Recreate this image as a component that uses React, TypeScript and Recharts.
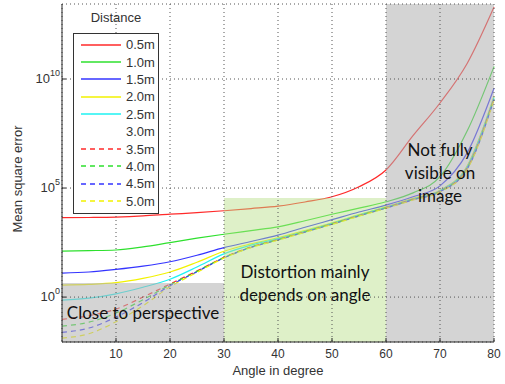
import { LineChart, Line, XAxis, YAxis, CartesianGrid, ReferenceArea } from 'recharts';

// angle in degree, sampled every 5°
const angles = [0, 5, 10, 15, 20, 25, 30, 35, 40, 45, 50, 55, 60, 65, 70, 75, 80];

// mean square error, stored as log10 exponents
const exp05 = [3.64, 3.65, 3.67, 3.72, 3.8, 3.87, 3.96, 4.06, 4.17, 4.36, 4.6, 5.06, 5.83, 7.4, 8.9, 10.7, 13.3];
const exp10 = [2.11, 2.13, 2.16, 2.3, 2.5, 2.7, 2.88, 3.05, 3.22, 3.5, 3.8, 4.08, 4.37, 4.78, 5.52, 7.6, 10.57];
const exp15 = [1.1, 1.15, 1.27, 1.42, 1.62, 1.92, 2.27, 2.55, 2.84, 3.2, 3.55, 3.9, 4.22, 4.6, 5.1, 6.6, 9.58];
const exp20 = [0.55, 0.58, 0.66, 0.86, 1.15, 1.6, 2.1, 2.44, 2.72, 3.05, 3.4, 3.78, 4.14, 4.53, 4.9, 6.0, 9.2];
const exp25 = [-0.14, -0.05, 0.15, 0.45, 0.82, 1.38, 1.98, 2.38, 2.68, 3.02, 3.38, 3.76, 4.12, 4.5, 4.88, 5.95, 9.15];
const exp35 = [-1.02, -0.85, -0.55, 0.0, 0.6, 1.2, 1.82, 2.3, 2.64, 3.0, 3.36, 3.74, 4.1, 4.48, 4.85, 5.9, 9.1];
const exp40 = [-1.33, -1.15, -0.73, -0.12, 0.56, 1.18, 1.81, 2.29, 2.63, 2.99, 3.35, 3.73, 4.09, 4.47, 4.84, 5.88, 9.08];
const exp45 = [-1.62, -1.42, -0.92, -0.25, 0.52, 1.16, 1.8, 2.28, 2.62, 2.98, 3.34, 3.72, 4.08, 4.46, 4.83, 5.86, 9.06];
const exp50 = [-1.88, -1.68, -1.13, -0.4, 0.47, 1.13, 1.79, 2.27, 2.61, 2.97, 3.33, 3.71, 4.07, 4.45, 4.82, 5.84, 9.04];

const xTicks = [10, 20, 30, 40, 50, 60, 70, 80];
const yTickExps = [0, 5, 10];

// zones: [x1, x2, top exponent]
const perspectiveZone = [0, 30, 0.64];
const angleZone = [30, 60, 4.54];
const hiddenZone = [60, 80];

const series = [
  { key: 'd05', name: '0.5m', exps: exp05, color: '#ff2a2a', dash: undefined },
  { key: 'd10', name: '1.0m', exps: exp10, color: '#2ee02e', dash: undefined },
  { key: 'd15', name: '1.5m', exps: exp15, color: '#3434ff', dash: undefined },
  { key: 'd20', name: '2.0m', exps: exp20, color: '#f2f200', dash: undefined },
  { key: 'd25', name: '2.5m', exps: exp25, color: '#1ef2f2', dash: undefined },
  { key: 'd30', name: '3.0m', exps: null, color: 'none', dash: undefined },
  { key: 'd35', name: '3.5m', exps: exp35, color: '#ff2a2a', dash: '5 4' },
  { key: 'd40', name: '4.0m', exps: exp40, color: '#2ee02e', dash: '5 4' },
  { key: 'd45', name: '4.5m', exps: exp45, color: '#3434ff', dash: '5 4' },
  { key: 'd50', name: '5.0m', exps: exp50, color: '#f2f200', dash: '5 4' },
];

const data = angles.map((a, i) => {
  const row: Record<string, number> = { angle: a };
  series.forEach(s => { if (s.exps) row[s.key] = Math.pow(10, s.exps[i]); });
  return row;
});

const Y_MIN = Math.pow(10, -2.06);
const Y_MAX = Math.pow(10, 13.44);
const AXIS = '#262626';
const NOTE_FONT = 'Lato, "Open Sans", sans-serif';
const UI_FONT = '"Liberation Sans", Arial, sans-serif';

const XTick = ({ x, y, payload }: any) => (
  <g>
    <line x1={x} x2={x} y1={y - 10} y2={y - 14} stroke={AXIS} />
    <text x={x} y={y + 6} textAnchor="middle" fontSize={12} fill="#333" fontFamily={UI_FONT}>
      {payload.value}
    </text>
  </g>
);

const YTick = ({ x, y, payload }: any) => {
  const e = Math.round(Math.log10(payload.value));
  return (
    <g>
      <line x1={x + 2} x2={x + 6} y1={y} y2={y} stroke={AXIS} />
      <text x={x} y={y + 4} textAnchor="end" fontSize={13} fill="#333" fontFamily={UI_FONT}>
        10<tspan dy={-7} fontSize={9}>{e}</tspan>
      </text>
    </g>
  );
};

const TopTick = ({ x, y }: any) => <line x1={x} x2={x} y1={y} y2={y + 4} stroke={AXIS} />;
const RightTick = ({ x, y }: any) => <line x1={x} x2={x - 4} y1={y} y2={y} stroke={AXIS} />;

const note = (lines: string[], dy: number) => (props: any) => {
  const vb = props.viewBox;
  const cx = vb.x + vb.width / 2;
  const cy = vb.y + vb.height / 2 + dy;
  const gap = 23;
  const y0 = cy - ((lines.length - 1) * gap) / 2;
  return (
    <text textAnchor="middle" fontSize={17} fill="#111" fontFamily={NOTE_FONT}>
      {lines.map((t, i) => (
        <tspan key={i} x={cx} y={y0 + i * gap + 6}>{t}</tspan>
      ))}
    </text>
  );
};

function LegendBox() {
  return (
    <div style={{ position: 'absolute', left: 73, top: 10, fontFamily: UI_FONT, fontSize: 13, color: '#333' }}>
      <div style={{ textAlign: 'center', width: 86, height: 23 }}>Distance</div>
      <div style={{ width: 84, border: '1px solid #333', background: '#fff', padding: '2px 0 3px' }}>
        {series.map(s => (
          <div key={s.key} style={{ display: 'flex', alignItems: 'center', height: 17.4 }}>
            <svg width={44} height={10} style={{ marginLeft: 6 }}>
              {s.exps && (
                <line x1={1} x2={41} y1={5} y2={5} stroke={s.color} strokeWidth={1.3} strokeDasharray={s.dash} />
              )}
            </svg>
            <span style={{ marginLeft: 2 }}>{s.name}</span>
          </div>
        ))}
      </div>
    </div>
  );
}

export default function App() {
  return (
    <div style={{ position: 'absolute', left: 0, top: 0, width: 505, height: 384, background: '#fff' }}>
      <LineChart width={505} height={384} data={data} margin={{ top: 4, right: 11, bottom: 0, left: 0 }}>
        <XAxis
          dataKey="angle" type="number" domain={[0, 80]} ticks={xTicks}
          height={42} tickSize={0} tickMargin={10} tick={<XTick />}
          axisLine={{ stroke: AXIS }} tickLine={false} interval={0}
          label={(p: any) => (
            <text x={p.viewBox.x + p.viewBox.width / 2} y={p.viewBox.y + 33} textAnchor="middle"
              fontSize={13} fill="#333" fontFamily={UI_FONT}>Angle in degree</text>
          )}
        />
        <XAxis
          xAxisId="top" orientation="top" dataKey="angle" type="number" domain={[0, 80]}
          ticks={xTicks} height={0} tickSize={0} tick={<TopTick />} tickLine={false}
          axisLine={{ stroke: AXIS }} interval={0}
        />
        <YAxis
          scale="log" type="number" domain={[Y_MIN, Y_MAX]} allowDataOverflow
          ticks={yTickExps.map(e => Math.pow(10, e))} width={62} tickSize={0} tickMargin={2}
          tick={<YTick />} tickLine={false} axisLine={{ stroke: AXIS }} interval={0}
          label={(p: any) => (
            <text transform={`translate(22, ${p.viewBox.y + p.viewBox.height / 2 + 6}) rotate(-90)`}
              textAnchor="middle" fontSize={13} fill="#333" fontFamily={UI_FONT}>Mean square error</text>
          )}
        />
        <YAxis
          yAxisId="right" orientation="right" scale="log" type="number" domain={[Y_MIN, Y_MAX]}
          allowDataOverflow ticks={yTickExps.map(e => Math.pow(10, e))} width={0} tickSize={0}
          tick={<RightTick />} tickLine={false} axisLine={{ stroke: AXIS }} interval={0}
        />
        {series.filter(s => s.exps).map(s => (
          <Line
            key={s.key} type="monotone" dataKey={s.key} name={s.name}
            stroke={s.color} strokeWidth={1.2} strokeDasharray={s.dash}
            dot={false} activeDot={false} isAnimationActive={false}
          />
        ))}
        <ReferenceArea
          x1={perspectiveZone[0]} x2={perspectiveZone[1]} y1={Y_MIN} y2={Math.pow(10, perspectiveZone[2])}
          fill="#b0b0b0" fillOpacity={0.55} stroke="none" ifOverflow="hidden" zIndex={450}
          label={note(['Close to perspective'], 0)}
        />
        <ReferenceArea
          x1={angleZone[0]} x2={angleZone[1]} y1={Y_MIN} y2={Math.pow(10, angleZone[2])}
          fill="#b5dd85" fillOpacity={0.45} stroke="none" ifOverflow="hidden" zIndex={450}
          label={note(['Distortion mainly', 'depends on angle'], 13)}
        />
        <ReferenceArea
          x1={hiddenZone[0]} x2={hiddenZone[1]} y1={Y_MIN} y2={Y_MAX}
          fill="#b0b0b0" fillOpacity={0.55} stroke="none" ifOverflow="hidden" zIndex={450}
          label={note(['Not fully', 'visible on', 'image'], 0)}
        />
        <CartesianGrid stroke="#555" strokeDasharray="1 3" zIndex={460} />
      </LineChart>
      <LegendBox />
    </div>
  );
}
